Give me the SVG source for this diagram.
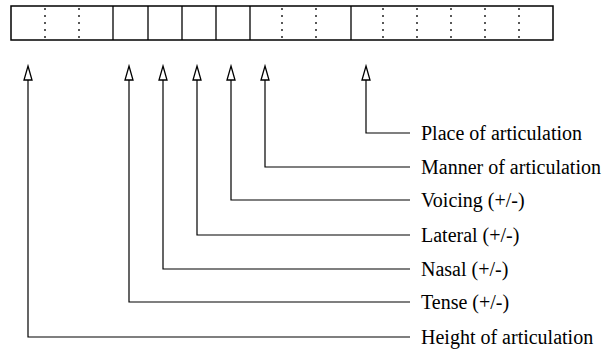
<svg xmlns="http://www.w3.org/2000/svg" width="604" height="351" viewBox="0 0 604 351">
<defs>
<style>
.box{fill:none;stroke:#000;stroke-width:1.5}
.sol{stroke:#000;stroke-width:1.3}
.dot{stroke:#000;stroke-width:1.3;stroke-dasharray:2,5}
.con{fill:none;stroke:#000;stroke-width:1.2}
.head{fill:#fff;stroke:#000;stroke-width:1.3}
text{font-family:"Liberation Serif","Times New Roman",serif;font-size:20px;fill:#000}
</style>
</defs>
<rect width="604" height="351" fill="#fff"/>
<g id="feature-box">
<rect class="box" x="11" y="6" width="542" height="34"/>
<line class="dot" x1="45" y1="8" x2="45" y2="39"/>
<line class="dot" x1="79" y1="8" x2="79" y2="39"/>
<line class="sol" x1="113" y1="6" x2="113" y2="40"/>
<line class="sol" x1="148" y1="6" x2="148" y2="40"/>
<line class="sol" x1="182" y1="6" x2="182" y2="40"/>
<line class="sol" x1="216" y1="6" x2="216" y2="40"/>
<line class="sol" x1="250" y1="6" x2="250" y2="40"/>
<line class="dot" x1="282" y1="8" x2="282" y2="39"/>
<line class="dot" x1="316" y1="8" x2="316" y2="39"/>
<line class="sol" x1="351" y1="6" x2="351" y2="40"/>
<line class="dot" x1="383" y1="8" x2="383" y2="39"/>
<line class="dot" x1="417" y1="8" x2="417" y2="39"/>
<line class="dot" x1="451" y1="8" x2="451" y2="39"/>
<line class="dot" x1="485" y1="8" x2="485" y2="39"/>
<line class="dot" x1="519" y1="8" x2="519" y2="39"/>
</g>
<g id="connectors">
<path class="con" d="M366 80 V133 H410"/>
<path class="con" d="M265 80 V167 H410"/>
<path class="con" d="M231 80 V200 H410"/>
<path class="con" d="M197 80 V235 H410"/>
<path class="con" d="M163 80 V269 H410"/>
<path class="con" d="M129 80 V302 H410"/>
<path class="con" d="M28 80 V337 H410"/>
<polygon class="head" points="366,66 370,80 362,80"/>
<polygon class="head" points="265,66 269,80 261,80"/>
<polygon class="head" points="231,66 235,80 227,80"/>
<polygon class="head" points="197,66 201,80 193,80"/>
<polygon class="head" points="163,66 167,80 159,80"/>
<polygon class="head" points="129,66 133,80 125,80"/>
<polygon class="head" points="28,66 32,80 24,80"/>
</g>
<g id="label-place"><text x="421" y="140">Place of articulation</text></g>
<g id="label-manner"><text x="421" y="174">Manner of articulation</text></g>
<g id="label-voicing"><text x="421" y="207">Voicing (+/-)</text></g>
<g id="label-lateral"><text x="421" y="242">Lateral (+/-)</text></g>
<g id="label-nasal"><text x="421" y="276">Nasal (+/-)</text></g>
<g id="label-tense"><text x="421" y="309">Tense (+/-)</text></g>
<g id="label-height"><text x="421" y="344">Height of articulation</text></g>
</svg>
